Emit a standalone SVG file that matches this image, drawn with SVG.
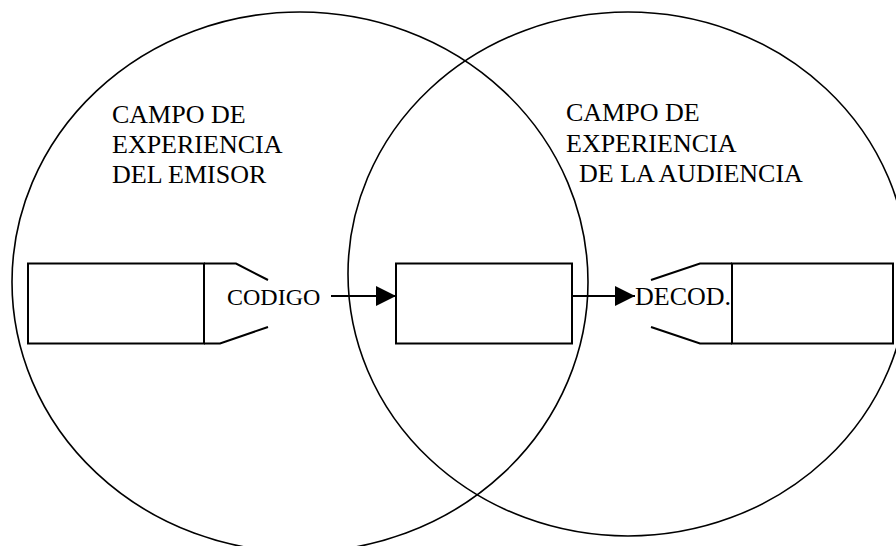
<svg xmlns="http://www.w3.org/2000/svg" width="896" height="546" viewBox="0 0 896 546">
<style>
.ln{fill:none;stroke:#000;stroke-width:2}
.el{fill:none;stroke:#000;stroke-width:1.6}
.t{font-family:"Liberation Serif","Times New Roman",serif;font-size:26px;fill:#000}
</style>
<defs>
<marker id="arr" markerWidth="20" markerHeight="20" refX="20" refY="10" orient="auto" markerUnits="userSpaceOnUse">
<path d="M0,0 L20,10 L0,20 Z" fill="#000"/>
</marker>
</defs>
<rect width="896" height="546" fill="#fff"/>
<g id="campo-emisor">
<ellipse class="el" cx="300" cy="282" rx="288" ry="270"/>
<text class="t" x="112" y="123">CAMPO DE</text>
<text class="t" x="112" y="153">EXPERIENCIA</text>
<text class="t" x="112" y="183">DEL EMISOR</text>
</g>
<g id="campo-audiencia">
<ellipse class="el" cx="628" cy="274" rx="280" ry="262"/>
<text class="t" x="566" y="121">CAMPO DE</text>
<text class="t" x="566" y="152">EXPERIENCIA</text>
<text class="t" x="579" y="182">DE LA AUDIENCIA</text>
</g>
<g id="emisor">
<rect class="ln" x="28" y="263.5" width="176" height="80"/>
<path class="ln" d="M204,263.5 L236,263.5 L268,280 M204,343.5 L220,343.5 L268,327"/>
<text class="t" x="227" y="305" style="font-size:24px">CODIGO</text>
</g>
<g id="mensaje">
<rect class="ln" x="396" y="263.5" width="176" height="80"/>
</g>
<g id="receptor">
<rect class="ln" x="732" y="263.5" width="161" height="80"/>
<path class="ln" d="M732,263.5 L700,263.5 L651,280 M732,343.5 L700,343.5 L651,327"/>
<text class="t" x="635" y="305">DECOD.</text>
</g>
<g id="connectors">
<line class="ln" x1="331" y1="296" x2="396" y2="296" marker-end="url(#arr)"/>
<line class="ln" x1="572" y1="296" x2="635" y2="296" marker-end="url(#arr)"/>
</g>
</svg>
